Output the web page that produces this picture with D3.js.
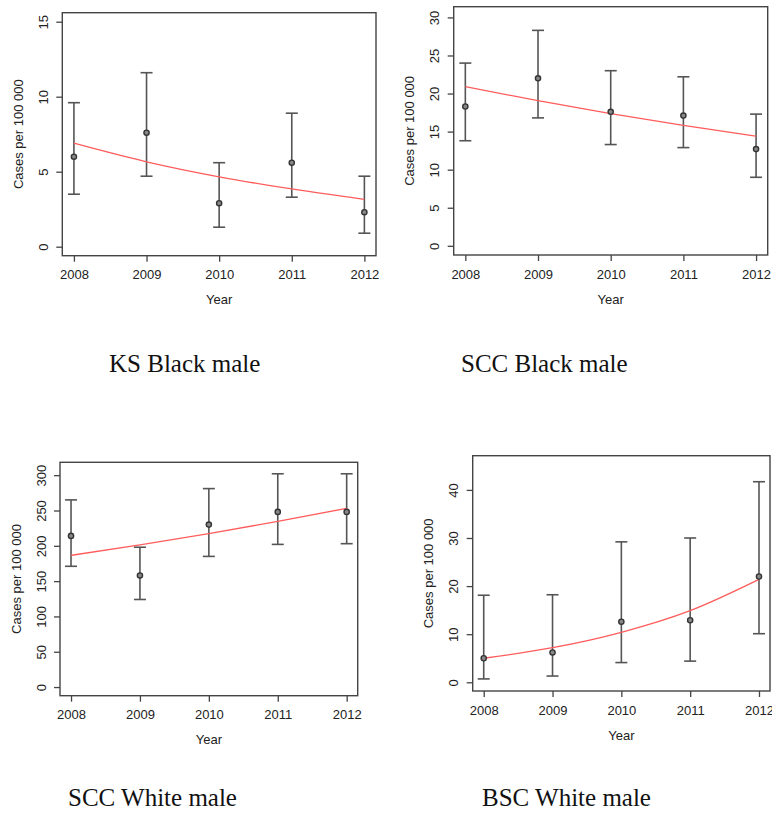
<!DOCTYPE html>
<html>
<head>
<meta charset="utf-8">
<script src="https://cdn.jsdelivr.net/npm/d3@7"></script>
<style>
    body { margin: 0; background: #fff; }
    svg { display: block; }
    .tick text { font-family: "Liberation Sans", Arial, sans-serif; font-size: 13px; fill: #222; }
    .axis-title { font-family: "Liberation Sans", Arial, sans-serif; font-size: 13px; fill: #222; }
    .panel-title { font-family: "Liberation Serif", "Times New Roman", serif; font-size: 25px; fill: #111; }
</style>
</head>
<body>
<svg id="chart-svg"></svg>
<script>
// Data
var years = [2008, 2009, 2010, 2011, 2012];

var ksBlackRate  = [6.0, 7.6, 2.9, 5.6, 2.3];
var ksBlackLower = [3.5, 4.7, 1.3, 3.3, 0.9];
var ksBlackUpper = [9.6, 11.6, 5.6, 8.9, 4.7];
var ksBlackFit   = [6.9, 5.66, 4.66, 3.85, 3.15];
var ksBlackTicks = [0, 5, 10, 15];

var sccBlackRate  = [18.3, 22.0, 17.6, 17.1, 12.7];
var sccBlackLower = [13.8, 16.8, 13.3, 12.9, 9.0];
var sccBlackUpper = [24.0, 28.3, 23.0, 22.2, 17.3];
var sccBlackFit   = [20.9, 19.06, 17.36, 15.82, 14.41];
var sccBlackTicks = [0, 5, 10, 15, 20, 25, 30];

var sccWhiteRate  = [214, 158, 230, 248, 248];
var sccWhiteLower = [171, 124, 185, 202, 203];
var sccWhiteUpper = [265, 198, 281, 302, 302];
var sccWhiteFit   = [186.5, 201.3, 217.3, 234.5, 253.1];
var sccWhiteTicks = [0, 50, 100, 150, 200, 250, 300];

var bscWhiteRate  = [5.0, 6.2, 12.6, 12.9, 22.0];
var bscWhiteLower = [0.7, 1.3, 4.1, 4.4, 10.1];
var bscWhiteUpper = [18.1, 18.2, 29.2, 30.0, 41.7];
var bscWhiteFit   = [5.0, 7.2, 10.4, 14.9, 21.4];
var bscWhiteTicks = [0, 10, 20, 30, 40];

var titles = ['KS Black male', 'SCC Black male', 'SCC White male', 'BSC White male'];

// Panel layout (plot box in page pixels)
var panels = [
    { box: [62.3, 12.7, 376, 255.7], ylim: [0, 15], title: [109, 372],
      rate: ksBlackRate, lower: ksBlackLower, upper: ksBlackUpper, fit: ksBlackFit, ticks: ksBlackTicks },
    { box: [453.7, 6.7, 767.7, 255], ylim: [0, 30.2], title: [461, 372],
      rate: sccBlackRate, lower: sccBlackLower, upper: sccBlackUpper, fit: sccBlackFit, ticks: sccBlackTicks },
    { box: [60, 462.3, 357.7, 695.7], ylim: [0, 306], title: [68, 806],
      rate: sccWhiteRate, lower: sccWhiteLower, upper: sccWhiteUpper, fit: sccWhiteFit, ticks: sccWhiteTicks },
    { box: [472.7, 455.7, 770, 691], ylim: [0, 45.3], title: [482, 806],
      rate: bscWhiteRate, lower: bscWhiteLower, upper: bscWhiteUpper, fit: bscWhiteFit, ticks: bscWhiteTicks }
];

var svg = d3.select('#chart-svg')
    .attr('width', 772)
    .attr('height', 817);

panels.forEach(function(p, i) {
    var left = p.box[0], top = p.box[1], right = p.box[2], bottom = p.box[3];

    // R style 4% padding on both axes
    var xPad = (years[years.length - 1] - years[0]) * 0.04;
    var xScale = d3.scaleLinear()
        .domain([years[0] - xPad, years[years.length - 1] + xPad])
        .range([left, right]);

    var yPad = (p.ylim[1] - p.ylim[0]) * 0.04;
    var yScale = d3.scaleLinear()
        .domain([p.ylim[0] - yPad, p.ylim[1] + yPad])
        .range([bottom, top]);

    var g = svg.append('g');

    // x axis
    var xAxis = g.append('g')
        .attr('transform', 'translate(0,' + bottom + ')')
        .call(d3.axisBottom(xScale).tickValues(years).tickFormat(d3.format('d')).tickSize(6).tickSizeOuter(0));
    xAxis.select('.domain').remove();
    xAxis.selectAll('.tick line').attr('stroke', '#444').attr('stroke-width', 1.3);
    xAxis.selectAll('.tick text').attr('y', 19).attr('dy', '0.35em');

    // y axis with rotated labels
    var yAxis = g.append('g')
        .attr('transform', 'translate(' + left + ',0)')
        .call(d3.axisLeft(yScale).tickValues(p.ticks).tickSize(6).tickSizeOuter(0));
    yAxis.select('.domain').remove();
    yAxis.selectAll('.tick line').attr('stroke', '#444').attr('stroke-width', 1.3);
    yAxis.selectAll('.tick text')
        .attr('transform', 'rotate(-90)')
        .attr('text-anchor', 'middle')
        .attr('x', 0)
        .attr('y', -19)
        .attr('dy', '0.35em');

    // plot box
    g.append('rect')
        .attr('x', left)
        .attr('y', top)
        .attr('width', right - left)
        .attr('height', bottom - top)
        .attr('fill', 'none')
        .attr('stroke', '#444')
        .attr('stroke-width', 1.4);

    // axis titles
    g.append('text')
        .attr('class', 'axis-title')
        .attr('x', (left + right) / 2)
        .attr('y', bottom + 44)
        .attr('dy', '0.35em')
        .attr('text-anchor', 'middle')
        .text('Year');

    g.append('text')
        .attr('class', 'axis-title')
        .attr('transform', 'translate(' + (left - 44) + ',' + (top + bottom) / 2 + ') rotate(-90)')
        .attr('dy', '0.35em')
        .attr('text-anchor', 'middle')
        .text('Cases per 100 000');

    // error bars
    var bars = g.selectAll('.err')
        .data(years)
        .enter()
        .append('g')
        .attr('class', 'err')
        .attr('stroke', '#555')
        .attr('stroke-width', 1.6);

    bars.append('line')
        .attr('x1', function(d) { return xScale(d); })
        .attr('x2', function(d) { return xScale(d); })
        .attr('y1', function(d, j) { return yScale(p.lower[j]); })
        .attr('y2', function(d, j) { return yScale(p.upper[j]); });

    bars.append('line')
        .attr('x1', function(d) { return xScale(d) - 6; })
        .attr('x2', function(d) { return xScale(d) + 6; })
        .attr('y1', function(d, j) { return yScale(p.upper[j]); })
        .attr('y2', function(d, j) { return yScale(p.upper[j]); });

    bars.append('line')
        .attr('x1', function(d) { return xScale(d) - 6; })
        .attr('x2', function(d) { return xScale(d) + 6; })
        .attr('y1', function(d, j) { return yScale(p.lower[j]); })
        .attr('y2', function(d, j) { return yScale(p.lower[j]); });

    // fitted trend
    var line = d3.line()
        .x(function(d) { return xScale(d); })
        .y(function(d, j) { return yScale(p.fit[j]); })
        .curve(d3.curveMonotoneX);

    g.append('path')
        .datum(years)
        .attr('d', line)
        .attr('fill', 'none')
        .attr('stroke', '#ff5c5c')
        .attr('stroke-width', 1.3);

    // observed points
    g.selectAll('.pt')
        .data(years)
        .enter()
        .append('circle')
        .attr('class', 'pt')
        .attr('cx', function(d) { return xScale(d); })
        .attr('cy', function(d, j) { return yScale(p.rate[j]); })
        .attr('r', 2.6)
        .attr('fill', '#888')
        .attr('stroke', '#333')
        .attr('stroke-width', 1.4);

    // panel title
    svg.append('text')
        .attr('class', 'panel-title')
        .attr('x', p.title[0])
        .attr('y', p.title[1])
        .text(titles[i]);
});
</script>
</body>
</html>
